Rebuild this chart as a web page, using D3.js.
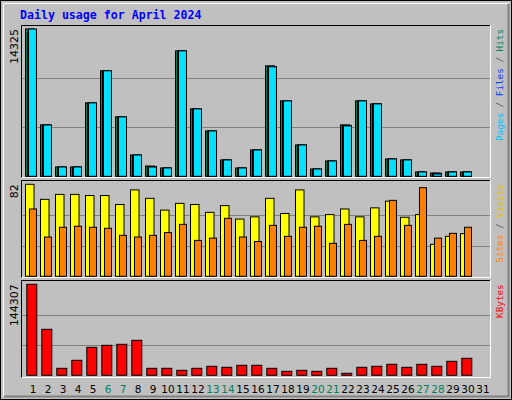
<!DOCTYPE html>
<html><head><meta charset="utf-8">
<script src="https://cdn.jsdelivr.net/npm/d3@7"></script>
<style>body{margin:0;background:#fff}</style>
</head><body>
<script>
// data
const days = d3.range(1, 32);
const weekends = [6, 7, 13, 14, 20, 21, 27, 28];
const hits  = [14325,5000,906,906,7140,10260,5780,2075,1000,810,12200,6555,4410,1590,810,2560,10745,7335,3050,710,1490,5000,7335,7040,1685,1590,420,320,420,420];
const files = [14030,4980,900,900,7120,10240,5760,2060,950,800,12180,6540,4400,1580,800,2550,10650,7320,3040,700,1480,4950,7320,7030,1680,1580,410,300,410,410];
const pages = [14325,4990,906,906,7140,10260,5780,2075,906,810,12200,6555,4410,1590,810,2560,10650,7335,3050,710,1490,4900,7335,7040,1685,1590,420,225,420,420];
const visits = [82,68.6,73,73,72,72,64,77,69.5,59,65,64,57,63,51,53,69.5,56,77,53,55,60,53,61,67,52.6,55,28.5,35.6,38];
const sites  = [60,35,43.7,44.6,43.7,42.8,36.5,35,36.5,39,46.3,32,34,51.7,35,31,45.4,35.6,43.7,44.6,29.4,46.3,32,35.6,67.7,45.4,79,34,38.3,43.7];
const kbytes = [144307,72950,11100,23790,44400,47570,49160,55500,11100,11100,7930,11100,14270,12690,15860,15860,11100,6340,7930,6340,11100,3170,12690,14270,17440,12690,17440,14270,22200,26960];

const W = 512, H = 400;
const svg = d3.select("body").append("svg").attr("width", W).attr("height", H)
  .style("font-family", "DejaVu Sans");

// frame
svg.append("rect").attr("x", 0.5).attr("y", 0.5).attr("width", W - 1).attr("height", H - 1)
  .attr("fill", "#c0c0c0").attr("stroke", "#000");
svg.append("path").attr("d", "M3.5,396.5V3.5H508.5").attr("fill", "none").attr("stroke", "#fff");
svg.append("path").attr("d", "M4,396.5H508.5V4").attr("fill", "none").attr("stroke", "#808080").attr("stroke-width", 2);

svg.append("text").attr("x", 20).attr("y", 19).text("Daily usage for April 2024")
  .attr("fill", "#0000ff").style("font-family", "DejaVu Sans Mono").style("font-weight", "bold").style("font-size", "11.6px");

const x = d3.scaleLinear().domain([1, 32]).range([25, 490]);

const panels = [
  {top: 25, bottom: 178, base: 176.3, maxY: 29, max: 14325,
   series: [{v: hits, c: "#00805c", dx: 0, w: 9}, {v: files, c: "#0040ff", dx: 2, w: 9}, {v: pages, c: "#00e0ff", dx: 3, w: 8}],
   labels: [["Pages", "#00c0ff"], [" / ", "#606060"], ["Files", "#0040ff"], [" / ", "#606060"], ["Hits", "#00805c"]]},
  {top: 180, bottom: 278, base: 276.3, maxY: 184.3, max: 82,
   series: [{v: visits, c: "#ffff00", dx: 0, w: 8.5}, {v: sites, c: "#ff8000", dx: 4, w: 7}],
   labels: [["Sites", "#ff8000"], [" / ", "#606060"], ["Visits", "#e0c000"]]},
  {top: 280, bottom: 378, base: 375.3, maxY: 284.3, max: 144307,
   series: [{v: kbytes, c: "#ff0000", dx: 1.3, w: 10}],
   labels: [["KBytes", "#ff0000"]]}
];

panels.forEach(p => {
  const y = d3.scaleLinear().domain([0, p.max]).range([p.base, p.maxY]);
  const g = svg.append("g");
  g.append("rect").attr("x", 21).attr("y", p.top).attr("width", 469).attr("height", p.bottom - p.top)
    .attr("fill", "#c0c0c0");
  g.append("path").attr("d", `M21.5,${p.bottom}V${p.top + 0.5}H490`).attr("fill", "none").attr("stroke", "#000");
  g.append("path").attr("d", `M21.5,${p.bottom - 0.5}H490.5V${p.top}`).attr("fill", "none").attr("stroke", "#fff");
  [p.max / 3, 2 * p.max / 3].forEach(t => {
    g.append("line").attr("x1", 22).attr("x2", 490).attr("y1", Math.round(y(t)) + 0.5).attr("y2", Math.round(y(t)) + 0.5)
      .attr("stroke", "#808080");
  });
  p.series.forEach(s => {
    g.selectAll(null).data(s.v).enter().append("rect")
      .attr("x", (d, i) => x(i + 1) + s.dx + 0.5)
      .attr("y", d => y(d))
      .attr("width", s.w)
      .attr("height", d => p.base - y(d))
      .attr("fill", s.c).attr("stroke", "#000");
  });
  g.append("text").attr("transform", `translate(18,${p.maxY}) rotate(-90)`).attr("text-anchor", "end")
    .style("font-size", "11px").text(p.max);
  const t = g.append("text").attr("transform", `translate(503,${p.maxY}) rotate(-90)`).attr("text-anchor", "end")
    .style("font-family", "DejaVu Sans Mono").style("font-size", "9.3px");
  p.labels.forEach(l => t.append("tspan").attr("fill", l[1]).text(l[0]));
});

svg.selectAll(".day").data(days).enter().append("text")
  .attr("x", d => x(d) + 8).attr("y", 393).attr("text-anchor", "middle")
  .style("font-size", "10.5px")
  .attr("fill", d => weekends.includes(d) ? "#00805c" : "#000")
  .text(d => d);
</script>
</body></html>
